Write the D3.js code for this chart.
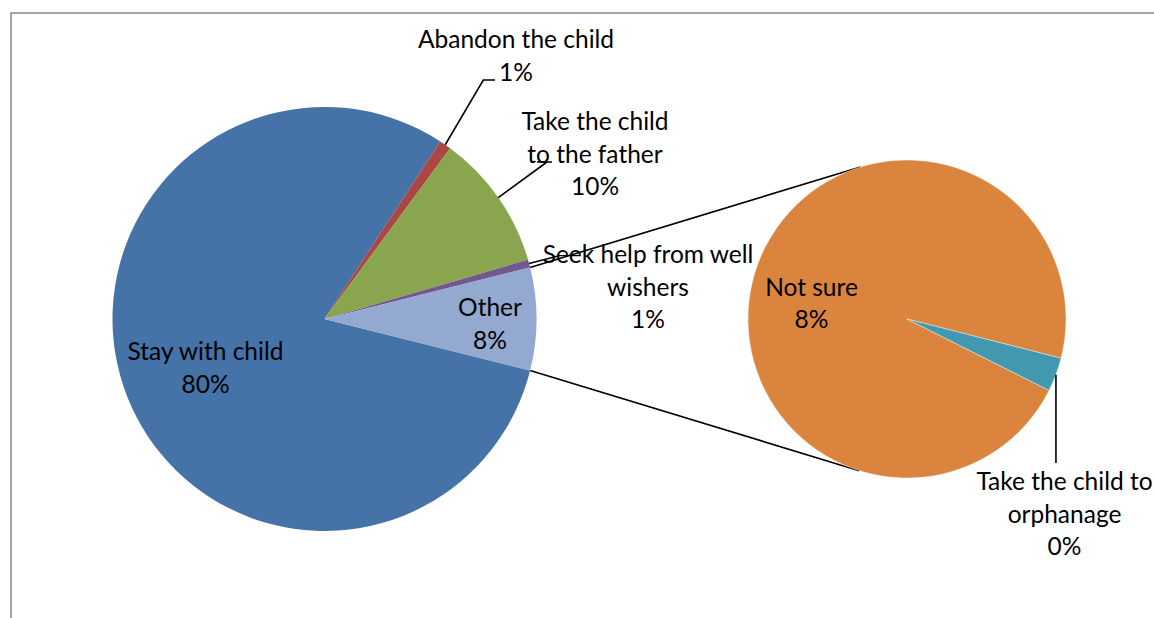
<!DOCTYPE html>
<html>
<head>
<meta charset="utf-8">
<script src="https://cdn.jsdelivr.net/npm/d3@7"></script>
<style>
  html, body { margin: 0; padding: 0; background: #fff; }
  svg { display: block; }
  text { font-family: Lato, "Liberation Sans", sans-serif; font-size: 24.5px; fill: #000; }
</style>
</head>
<body>
<svg id="chart" width="1154" height="618"></svg>
<script>
// ---- data ----
const mainCategories = ["Stay with child", "Abandon the child", "Take the child to the father", "Seek help from well wishers", "Other"];
const mainValues = [80.3, 0.9, 10.4, 0.6, null]; // "Other" = sum of secondary
const subCategories = ["Not sure", "Take the child to orphanage"];
const subValues = [7.55, 0.27];
const mainColors = ["#4572A7", "#AA4643", "#89A54E", "#71588F", "#93A9CF"];
const subColors = ["#DB843D", "#4198AF"];

const otherValue = d3.sum(subValues);
const mainData = mainCategories.map((c, i) => ({ name: c, value: i === 4 ? otherValue : mainValues[i], color: mainColors[i] }));
const subData = subCategories.map((c, i) => ({ name: c, value: subValues[i], color: subColors[i] }));
const total = d3.sum(mainData, d => d.value);
const pct = v => Math.round(v / total * 100) + "%";

// ---- layout ----
const svg = d3.select("#chart");
const deg = Math.PI / 180;
const mainC = { x: 324.5, y: 319 }, mainR = 212;
const subC = { x: 907, y: 319 }, subR = 159;

// frame
svg.append("rect").attr("x", 11).attr("y", 13).attr("width", 1300).attr("height", 800)
  .attr("fill", "none").attr("stroke", "#888").attr("stroke-width", 1.5);

// main pie: "Other" centered at 3 o'clock
const otherAngle = otherValue / total * 2 * Math.PI;
const mainStart = Math.PI / 2 + otherAngle / 2;
const mainPie = d3.pie().sort(null).value(d => d.value).startAngle(mainStart).endAngle(mainStart + 2 * Math.PI);
const mainArcs = mainPie(mainData);
const mainArc = d3.arc().innerRadius(0).outerRadius(mainR);

const subStart = 116.7 * deg;
const subPie = d3.pie().sort(null).value(d => d.value).startAngle(subStart).endAngle(subStart + 2 * Math.PI);
const subArcs = subPie(subData);
const subArc = d3.arc().innerRadius(0).outerRadius(subR);

const polar = (c, r, a) => [c.x + r * Math.sin(a), c.y - r * Math.cos(a)];

// connector lines between pies
const otherArc = mainArcs[4];
const connTop = [polar(mainC, mainR, otherArc.startAngle), polar(subC, subR, -17 * deg)];
const connBot = [polar(mainC, mainR, otherArc.endAngle), polar(subC, subR, 197.5 * deg)];
svg.append("g").selectAll("line").data([connTop, connBot]).join("line")
  .attr("x1", d => d[0][0]).attr("y1", d => d[0][1])
  .attr("x2", d => d[1][0]).attr("y2", d => d[1][1])
  .attr("stroke", "#000").attr("stroke-width", 1.6);

svg.append("g").attr("transform", `translate(${mainC.x},${mainC.y})`)
  .selectAll("path").data(mainArcs).join("path")
  .attr("d", mainArc).attr("fill", d => d.data.color);

svg.append("g").attr("transform", `translate(${subC.x},${subC.y})`)
  .selectAll("path").data(subArcs).join("path")
  .attr("d", subArc).attr("fill", d => d.data.color)
  .attr("stroke", "#fff").attr("stroke-width", 0.4);

// leader lines
const mid = a => (a.startAngle + a.endAngle) / 2;
const leaders = [
  "M" + polar(mainC, mainR, mid(mainArcs[1])) + "L483.3,80L495,80",
  "M" + polar(mainC, mainR, mid(mainArcs[2])) + "L547,162M537,162L552,162",
  "M" + polar(mainC, mainR, mid(mainArcs[3])) + "L558,256",
  "M" + polar(subC, subR, mid(subArcs[1])) + "L" + polar(subC, subR, mid(subArcs[1]))[0] + ",463"
];
svg.append("g").selectAll("path").data(leaders).join("path")
  .attr("d", d => d).attr("fill", "none").attr("stroke", "#000").attr("stroke-width", 1.6);

// labels
const labels = [
  { lines: ["Stay with child", pct(mainData[0].value)], x: 205.5, y: 360 },
  { lines: ["Abandon the child", pct(mainData[1].value)], x: 516, y: 48 },
  { lines: ["Take the child", "to the father", pct(mainData[2].value)], x: 595, y: 130 },
  { lines: ["Seek help from well", "wishers", pct(mainData[3].value)], x: 648, y: 263 },
  { lines: ["Other", pct(mainData[4].value)], x: 490, y: 316 },
  { lines: ["Not sure", pct(subData[0].value)], x: 811.5, y: 295.5 },
  { lines: ["Take the child to", "orphanage", pct(subData[1].value)], x: 1064.5, y: 490 }
];
const lg = svg.append("g");
labels.forEach(l => {
  const t = lg.append("text").attr("text-anchor", "middle").attr("x", l.x).attr("y", l.y);
  l.lines.forEach((s, i) => t.append("tspan").attr("x", l.x).attr("dy", i === 0 ? 0 : 32.5).text(s));
});
</script>
</body>
</html>
